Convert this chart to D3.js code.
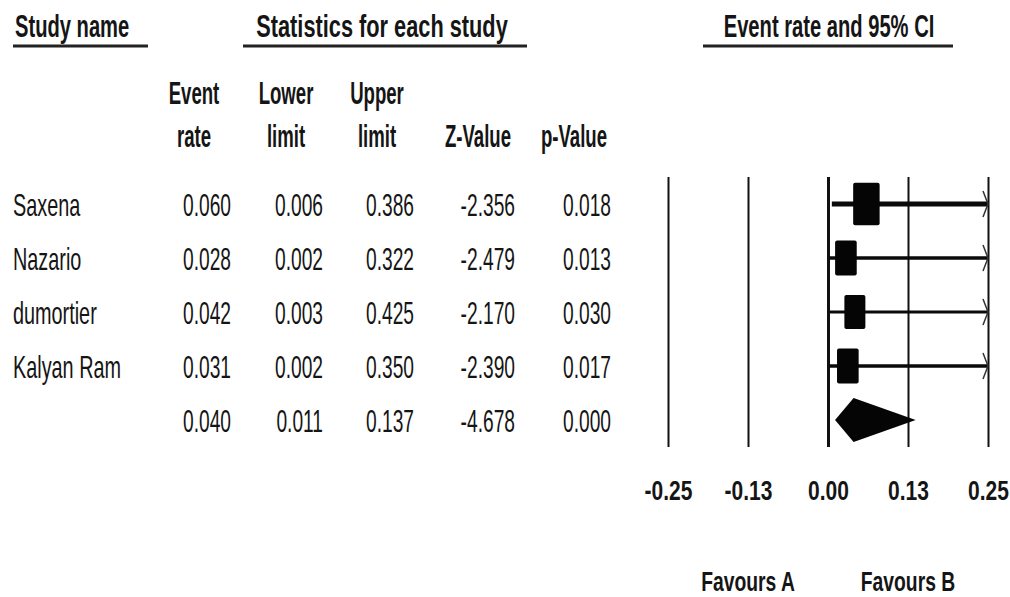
<!DOCTYPE html>
<html>
<head>
<meta charset="utf-8">
<script src="https://cdn.jsdelivr.net/npm/d3@7"></script>
<style>
  body { margin: 0; background: #fff; }
  text { font-family: "Liberation Sans", Arial, sans-serif; fill: #151515; }
</style>
</head>
<body>
<div id="chart"></div>
<script>
// study rows
const studies = ["Saxena", "Nazario", "dumortier", "Kalyan Ram"];
const eventRate = [0.060, 0.028, 0.042, 0.031];
const lowerLimit = [0.006, 0.002, 0.003, 0.002];
const upperLimit = [0.386, 0.322, 0.425, 0.350];
const zValue = [-2.356, -2.479, -2.170, -2.390];
const pValue = [0.018, 0.013, 0.030, 0.017];
// relative weight (%)
const relWeight = [33.7, 22.5, 21.2, 22.5];
// pooled: rate, lower, upper, z, p
const summaryStats = [0.040, 0.011, 0.137, -4.678, 0.000];

const tickValues = [-0.25, -0.125, 0, 0.125, 0.25];
const tickLabels = ["-0.25", "-0.13", "0.00", "0.13", "0.25"];
const columnHeads = [["Event", "rate"], ["Lower", "limit"], ["Upper", "limit"], ["", "Z-Value"], ["", "p-Value"]];
const favourLabels = ["Favours A", "Favours B"];
const favourAt = [-0.125, 0.125];

const width = 1010, height = 597;
const svg = d3.select("#chart").append("svg")
  .attr("width", width)
  .attr("height", height);

function squeeze(sel, x, y, sx) {
  return sel.attr("transform", `translate(${x},${y}) scale(${sx},1)`);
}

// top headings with underline
const heads = [
  { t: "Study name", x: 15, anchor: "start", sx: 0.63, l0: 13, l1: 148 },
  { t: "Statistics for each study", x: 382, anchor: "middle", sx: 0.68, l0: 243, l1: 527 },
  { t: "Event rate and 95% CI", x: 829, anchor: "middle", sx: 0.63, l0: 703, l1: 953 }
];
heads.forEach(function (h) {
  squeeze(svg.append("text"), h.x, 37, h.sx)
    .attr("text-anchor", h.anchor)
    .attr("font-size", "32px")
    .attr("font-weight", "bold")
    .text(h.t);
  svg.append("line")
    .attr("x1", h.l0).attr("x2", h.l1)
    .attr("y1", 46).attr("y2", 46)
    .attr("stroke", "#222")
    .attr("stroke-width", 3);
});

// table columns
const colX = [231, 323, 414, 515, 611];
columnHeads.forEach(function (c, i) {
  c.forEach(function (line, k) {
    if (!line) return;
    squeeze(svg.append("text"), colX[i] - 37, k == 0 ? 104 : 147, 0.6)
      .attr("text-anchor", "middle")
      .attr("font-size", "31px")
      .attr("font-weight", "bold")
      .text(line);
  });
});

const y = d3.scalePoint().domain(d3.range(studies.length + 1)).range([204, 420]);

const rows = studies.map(function (s, i) {
  return { name: s, vals: [eventRate[i], lowerLimit[i], upperLimit[i], zValue[i], pValue[i]] };
});
rows.push({ name: "", vals: summaryStats });

rows.forEach(function (r, i) {
  squeeze(svg.append("text"), 13, y(i) + 12, 0.62)
    .attr("font-size", "32px")
    .text(r.name);
  r.vals.forEach(function (v, j) {
    squeeze(svg.append("text"), colX[j], y(i) + 12, 0.6)
      .attr("text-anchor", "end")
      .attr("font-size", "32px")
      .text(v.toFixed(3));
  });
});

// forest plot
const x = d3.scaleLinear().domain([-0.25, 0.25]).range([668, 988]);
const axisY = 447;

const axis = svg.append("g")
  .attr("transform", `translate(0,${axisY})`)
  .call(d3.axisBottom(x)
    .tickValues(tickValues)
    .tickFormat((d, i) => tickLabels[i])
    .tickSizeInner(-(axisY - 177))
    .tickSizeOuter(0)
    .tickPadding(33));
axis.select(".domain").remove();
axis.selectAll(".tick line")
  .attr("stroke", "#111")
  .attr("stroke-width", d => d == 0 ? 3 : 2);
axis.selectAll(".tick text")
  .attr("font-size", "28px")
  .attr("font-weight", "bold")
  .attr("font-family", "'Liberation Sans', Arial, sans-serif")
  .attr("fill", "#151515")
  .attr("transform", "scale(0.75,1)");

const boxSize = d3.scaleSqrt().domain([0, 35]).range([0, 43.5]);
const lineW = d3.scaleLinear().domain([20, 34]).range([3, 4.8]);

studies.forEach(function (s, i) {
  const cy = y(i);
  const hi = Math.min(upperLimit[i], 0.25);
  svg.append("line")
    .attr("x1", x(lowerLimit[i])).attr("x2", x(hi))
    .attr("y1", cy).attr("y2", cy)
    .attr("stroke", "#0a0a0a")
    .attr("stroke-width", lineW(relWeight[i]));
  if (upperLimit[i] > 0.25) {
    svg.append("path")
      .attr("d", `M${x(hi) - 5},${cy - 13}L${x(hi)},${cy}L${x(hi) - 5},${cy + 13}`)
      .attr("fill", "none")
      .attr("stroke", "#333")
      .attr("stroke-width", 1.5);
  }
  const h = boxSize(relWeight[i]), w = h * 0.62;
  svg.append("rect")
    .attr("x", x(eventRate[i]) - w / 2)
    .attr("y", cy - h / 2)
    .attr("width", w)
    .attr("height", h)
    .attr("rx", 2)
    .attr("fill", "#050505");
});

// pooled diamond
const dy = y(studies.length);
svg.append("path")
  .attr("d", d3.line()([
    [x(summaryStats[1]), dy],
    [x(summaryStats[0]), dy - 22],
    [x(summaryStats[2]), dy],
    [x(summaryStats[0]), dy + 22]
  ]) + "Z")
  .attr("fill", "#050505");

favourLabels.forEach(function (t, i) {
  squeeze(svg.append("text"), x(favourAt[i]), 591, 0.69)
    .attr("text-anchor", "middle")
    .attr("font-size", "28px")
    .attr("font-weight", "bold")
    .text(t);
});
</script>
</body>
</html>
